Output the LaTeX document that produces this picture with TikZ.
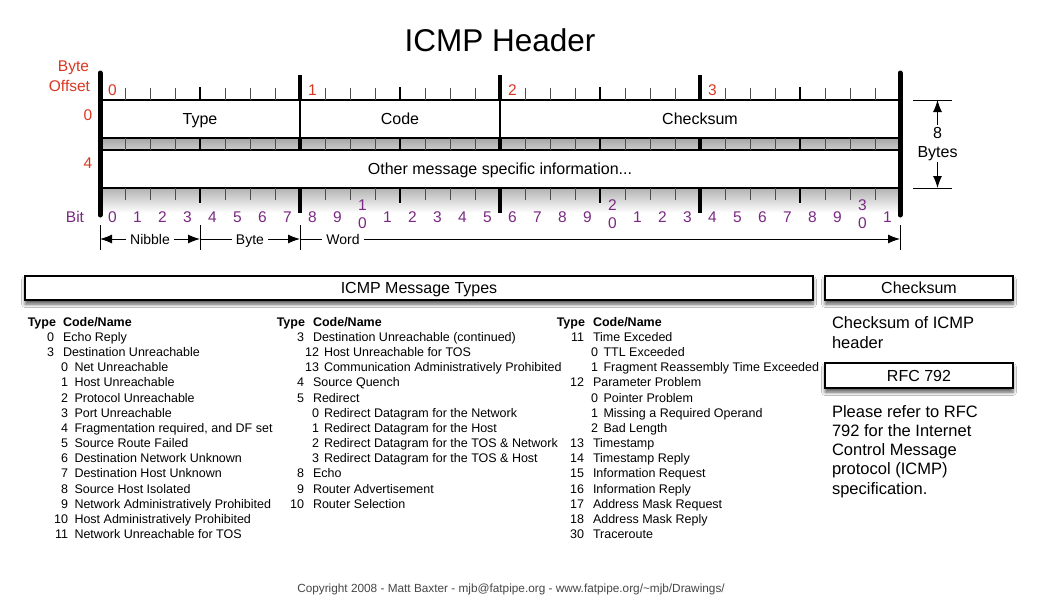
\documentclass[tikz,border=0pt]{standalone}
\usepackage{fontspec}
\setmainfont{Liberation Sans}
\usetikzlibrary{shadows.blur,arrows.meta}
\definecolor{offred}{RGB}{218,55,32}
\definecolor{bitpurple}{RGB}{122,40,130}
\definecolor{copygray}{RGB}{70,70,70}
\newcommand\fsz[1]{\fontsize{#1}{#1}\selectfont}
\begin{document}
\begin{tikzpicture}[x=1pt,y=-1pt,
  txt/.style={inner sep=0pt, outer sep=0pt},
  field/.style={draw=black, line width=1.3pt, fill=white, inner sep=0pt, minimum height=38pt, font=\fsz{16}, text height=11.5pt, text depth=0pt},
  bar/.style={draw=black, line width=1.2pt, fill=white, inner sep=0pt, minimum height=24pt, font=\fsz{16}, text height=11.5pt, text depth=0pt, blur shadow={shadow xshift=0pt, shadow yshift=-4pt, shadow blur radius=3.5pt, shadow opacity=65}},
  thintick/.style={draw=gray!60!black, line width=0.8pt},
  nibtick/.style={draw=black, line width=2pt},
  bytetick/.style={draw=black, line width=3.5pt},
  endtick/.style={draw=black, line width=5pt, line cap=round},
  dimarrow/.style={draw=black, line width=1pt, -{Latex[length=12pt,width=9pt]}},
  dimline/.style={draw=black, line width=0.9pt},
  lst/.style={txt, font=\fsz{12.5}},
  lsthead/.style={txt, font=\fsz{12.5}\bfseries},
  offlbl/.style={txt, font=\fsz{15.5}, text=offred},
  bitlbl/.style={txt, font=\fsz{15.5}, text=bitpurple},
  sidetxt/.style={txt, font=\fsz{16.5}, anchor=base west},
  ]
\useasboundingbox[fill=white] (0,0) rectangle (1050,600);

% title
\node[txt, anchor=base, font=\fsz{31.5}] (title) at (500,51) {ICMP Header};

% shading
\shade[top color=gray!60, bottom color=white] (100,188) rectangle (900,213);
\shade[top color=gray!70, bottom color=gray!40] (100,138) rectangle (900,150);

% fields
\node[field, minimum width=200pt] (ftype) at (200,119) {Type};
\node[field, minimum width=200pt] (fcode) at (400,119) {Code};
\node[field, minimum width=400pt] (fcks) at (700,119) {Checksum};
\node[field, minimum width=800pt] (fother) at (500,169) {Other message specific information...};

% ticks
\foreach \i in {1,...,31}{
  \pgfmathtruncatemacro\mb{mod(\i,8)}
  \pgfmathtruncatemacro\mn{mod(\i,4)}
  \pgfmathsetmacro\xx{100+25*\i}
  \ifnum\mb=0
    \draw[bytetick] (\xx,75) -- (\xx,100);
    \draw[bytetick] (\xx,138) -- (\xx,150);
    \draw[bytetick] (\xx,188) -- (\xx,213);
  \else\ifnum\mn=0
    \draw[nibtick] (\xx,87) -- (\xx,100);
    \draw[nibtick] (\xx,138) -- (\xx,150);
    \draw[nibtick] (\xx,188) -- (\xx,203);
  \else
    \draw[thintick] (\xx,88) -- (\xx,100);
    \draw[thintick] (\xx,138) -- (\xx,150);
    \draw[thintick] (\xx,188) -- (\xx,200);
  \fi\fi
}
\draw[endtick] (100,73) -- (100,215);
\draw[endtick] (900,73) -- (900,215);

% byte offset labels
\node[offlbl, anchor=base east] (bo1) at (89,71) {Byte};
\node[offlbl, anchor=base east] (bo2) at (90,91) {Offset};
\node[offlbl, anchor=base] (off0) at (88,120) {0};
\node[offlbl, anchor=base] (off4) at (88,168) {4};
\foreach \b in {0,1,2,3}
  \node[offlbl, anchor=base] (byte\b) at (112.5+200*\b,95) {\b};

% bit labels
\node[bitlbl, anchor=base east] (bitlbl) at (84,222) {Bit};
\foreach \i in {0,...,31}{
  \pgfmathtruncatemacro\d{mod(\i,10)}
  \pgfmathtruncatemacro\t{\i/10}
  \pgfmathsetmacro\xx{112.5+25*\i}
  \ifnum\i>0 \ifnum\d=0
    \node[bitlbl, anchor=base] (bitt\i) at (\xx,210) {\t};
    \node[bitlbl, anchor=base] (bit\i) at (\xx,228) {0};
  \else
    \node[bitlbl, anchor=base] (bit\i) at (\xx,222) {\d};
  \fi\else
    \node[bitlbl, anchor=base] (bit\i) at (\xx,222) {\d};
  \fi
}

% 8 bytes dimension
\coordinate (h1a) at (913,100); \coordinate (h1b) at (952,100);
\coordinate (h2a) at (913,188); \coordinate (h2b) at (952,188);
\coordinate (v1) at (937.5,100); \coordinate (v2) at (937.5,188);
\draw[dimline] (h1a) -- (h1b);
\draw[dimline] (h2a) -- (h2b);
\node[txt, font=\fsz{16}, anchor=base] (eight) at (937.5,138) {8};
\node[txt, font=\fsz{16}, anchor=base] (bytes) at (937.5,157) {Bytes};
\draw[dimarrow] ([yshift=2pt]eight.north) -- (v1);
\draw[dimarrow] ([yshift=-2pt]bytes.south) -- (v2);

% nibble/byte/word dimension
\foreach \x/\n in {100/d0,200/d1,300/d2,900/d3}{
  \coordinate (\n t) at (\x,225); \coordinate (\n b) at (\x,250); \coordinate (\n) at (\x,239);
  \draw[dimline] (\n t) -- (\n b);
}
\node[txt, font=\fsz{14}, anchor=base] (nib) at (150,244) {Nibble};
\node[txt, font=\fsz{14}, anchor=base] (byt) at (250,244) {Byte};
\node[txt, font=\fsz{14}, anchor=base] (wrd) at (343,244) {Word};
\draw[dimarrow] ([xshift=-4pt]nib.west |- d0) -- (d0);
\draw[dimarrow] ([xshift=4pt]nib.east |- d0) -- (d1);
\draw[dimline] (d1) -- ([xshift=-4pt]byt.west |- d1);
\draw[dimarrow] ([xshift=4pt]byt.east |- d1) -- (d2);
\draw[dimline] (d2) -- ([xshift=-4pt]wrd.west |- d2);
\draw[dimarrow] ([xshift=4pt]wrd.east |- d2) -- (d3);

% bars
\node[bar, minimum width=788pt] (bmsg) at (419,288) {ICMP Message Types};
\node[bar, minimum width=188pt] (bcks) at (919,288) {Checksum};
\node[bar, minimum width=188pt, minimum height=25pt] (brfc) at (919,375.5) {RFC 792};

% side texts
\node[sidetxt] (ck1) at (832,328) {Checksum of ICMP};
\node[sidetxt] (ck2) at (832,348) {header};
\node[sidetxt] (rf1) at (832,417) {Please refer to RFC};
\node[sidetxt] (rf2) at (832,436) {792 for the Internet};
\node[sidetxt] (rf3) at (832,455) {Control Message};
\node[sidetxt] (rf4) at (832,474) {protocol (ICMP)};
\node[sidetxt] (rf5) at (832,494) {specification.};

% list headers
\node[lsthead, anchor=base east] (h1t) at (56,326.5) {Type};
\node[lsthead, anchor=base west] (h1n) at (63,326.5) {Code/Name};
\node[lsthead, anchor=base east] (h2t) at (305,326.5) {Type};
\node[lsthead, anchor=base west] (h2n) at (313,326.5) {Code/Name};
\node[lsthead, anchor=base east] (h3t) at (585,326.5) {Type};
\node[lsthead, anchor=base west] (h3n) at (593,326.5) {Code/Name};

% column 1
\foreach \k/\n/\t [count=\r from 0] in {
  0/0/Echo Reply, 0/3/Destination Unreachable, 1/0/Net Unreachable,
  1/1/Host Unreachable, 1/2/Protocol Unreachable, 1/3/Port Unreachable,
  1/4/{Fragmentation required, and DF set}, 1/5/Source Route Failed,
  1/6/Destination Network Unknown, 1/7/Destination Host Unknown,
  1/8/Source Host Isolated, 1/9/Network Administratively Prohibited,
  1/10/Host Administratively Prohibited, 1/11/Network Unreachable for TOS}{
  \pgfmathsetmacro\yy{341.5+15.15*\r}
  \node[lst, anchor=base east] (c1n\r) at ({54+\k*14},\yy) {\n};
  \node[lst, anchor=base west] (c1t\r) at ({63+\k*11.5},\yy) {\t};
}
% column 2
\foreach \k/\n/\t [count=\r from 0] in {
  0/3/Destination Unreachable (continued), 1/12/Host Unreachable for TOS,
  1/13/Communication Administratively Prohibited, 0/4/Source Quench,
  0/5/Redirect, 1/0/Redirect Datagram for the Network,
  1/1/Redirect Datagram for the Host, 1/2/Redirect Datagram for the TOS \& Network,
  1/3/Redirect Datagram for the TOS \& Host, 0/8/Echo,
  0/9/Router Advertisement, 0/10/Router Selection}{
  \pgfmathsetmacro\yy{341.5+15.15*\r}
  \node[lst, anchor=base east] (c2n\r) at ({304+\k*15},\yy) {\n};
  \node[lst, anchor=base west] (c2t\r) at ({313+\k*11},\yy) {\t};
}
% column 3
\foreach \k/\n/\t [count=\r from 0] in {
  0/11/Time Exceded, 1/0/TTL Exceeded, 1/1/Fragment Reassembly Time Exceeded,
  0/12/Parameter Problem, 1/0/Pointer Problem, 1/1/Missing a Required Operand,
  1/2/Bad Length, 0/13/Timestamp, 0/14/Timestamp Reply,
  0/15/Information Request, 0/16/Information Reply,
  0/17/Address Mask Request, 0/18/Address Mask Reply, 0/30/Traceroute}{
  \pgfmathsetmacro\yy{341.5+15.15*\r}
  \node[lst, anchor=base east] (c3n\r) at ({584+\k*14},\yy) {\n};
  \node[lst, anchor=base west] (c3t\r) at ({593+\k*10.5},\yy) {\t};
}

% copyright
\node[txt, anchor=base, font=\fsz{11.8}, text=copygray] (copy) at (511,592)
  {Copyright 2008 - Matt Baxter - mjb@fatpipe.org - www.fatpipe.org/\textasciitilde mjb/Drawings/};
\end{tikzpicture}
\end{document}
